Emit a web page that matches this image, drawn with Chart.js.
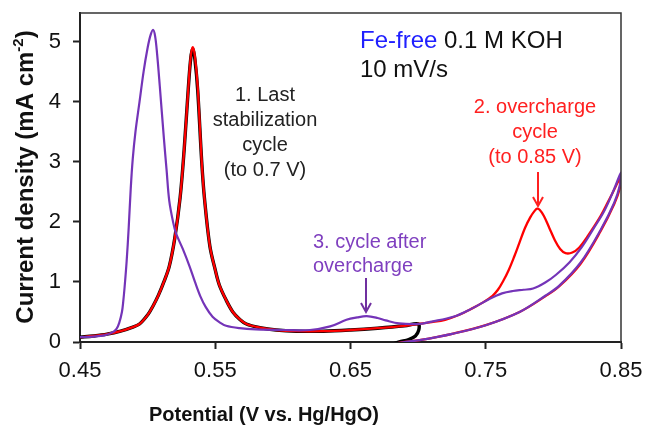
<!DOCTYPE html>
<html>
<head>
<meta charset="utf-8">
<script src="https://cdn.jsdelivr.net/npm/chart.js@4.4.1/dist/chart.umd.min.js"></script>
<style>
  html, body { margin: 0; padding: 0; background: #fff; }
  #wrap { width: 648px; height: 426px; position: relative; }
</style>
</head>
<body>
<div id="wrap"><canvas id="cv-chart"></canvas></div>
<script>
// ===== CV curves, Fe-free 0.1 M KOH, 10 mV/s =====
const xTicks = [0.45, 0.55, 0.65, 0.75, 0.85];
const yTicks = [0, 1, 2, 3, 4, 5];

// 1. last stabilization cycle (to 0.7 V) - anodic sweep then turn back
const stabPotential = [0.45, 0.46, 0.47, 0.48, 0.488, 0.494, 0.5, 0.504, 0.508, 0.512, 0.516, 0.52, 0.524, 0.527, 0.53, 0.532, 0.5335, 0.535, 0.537, 0.54, 0.542, 0.546, 0.55, 0.553, 0.558, 0.563, 0.568, 0.573, 0.583, 0.595, 0.61, 0.63, 0.65, 0.67, 0.69, 0.7, 0.7005, 0.698, 0.693, 0.686, 0.675];
const stabCurrent   = [0.08, 0.1, 0.13, 0.18, 0.24, 0.3, 0.45, 0.6, 0.78, 1.0, 1.26, 1.72, 2.4, 3.2, 4.2, 4.75, 4.88, 4.7, 4.2, 3.0, 2.4, 1.6, 1.2, 0.95, 0.7, 0.5, 0.38, 0.3, 0.24, 0.2, 0.18, 0.18, 0.2, 0.23, 0.27, 0.3, 0.2, 0.1, 0.04, 0.0, -0.08];

// 2. overcharge cycle (to 0.85 V)
const overPotential = [0.45, 0.46, 0.47, 0.48, 0.488, 0.494, 0.5, 0.504, 0.508, 0.512, 0.516, 0.52, 0.524, 0.527, 0.53, 0.532, 0.5335, 0.535, 0.537, 0.54, 0.542, 0.546, 0.55, 0.553, 0.558, 0.563, 0.568, 0.573, 0.583, 0.595, 0.61, 0.63, 0.65, 0.67, 0.69, 0.7, 0.71, 0.72, 0.73, 0.74, 0.748, 0.755, 0.759, 0.763, 0.767, 0.771, 0.775, 0.779, 0.783, 0.786, 0.788, 0.79, 0.793, 0.797, 0.801, 0.805, 0.809, 0.814, 0.819, 0.825, 0.835, 0.843, 0.85, 0.849, 0.845, 0.835, 0.82, 0.804, 0.794, 0.775, 0.75, 0.726, 0.701, 0.69, 0.675];
const overCurrent   = [0.08, 0.1, 0.13, 0.18, 0.24, 0.3, 0.45, 0.6, 0.78, 1.0, 1.26, 1.72, 2.4, 3.2, 4.2, 4.78, 4.91, 4.75, 4.26, 3.0, 2.4, 1.6, 1.2, 0.95, 0.7, 0.5, 0.38, 0.3, 0.24, 0.2, 0.18, 0.18, 0.2, 0.23, 0.27, 0.3, 0.33, 0.37, 0.45, 0.56, 0.66, 0.77, 0.87, 1.02, 1.2, 1.42, 1.66, 1.9, 2.08, 2.18, 2.22, 2.2, 2.1, 1.9, 1.7, 1.55, 1.48, 1.49, 1.57, 1.75, 2.1, 2.45, 2.75, 2.55, 2.3, 1.85, 1.3, 0.92, 0.76, 0.5, 0.28, 0.14, 0.03, 0.0, -0.06];

// 3. cycle after overcharge
const afterPotential = [0.45, 0.46, 0.468, 0.474, 0.477, 0.479, 0.481, 0.482, 0.483, 0.4845, 0.486, 0.4875, 0.489, 0.491, 0.494, 0.497, 0.5, 0.502, 0.504, 0.5055, 0.507, 0.509, 0.512, 0.514, 0.516, 0.519, 0.521, 0.526, 0.531, 0.535, 0.539, 0.543, 0.548, 0.553, 0.558, 0.568, 0.58, 0.6, 0.62, 0.635, 0.647, 0.655, 0.662, 0.67, 0.676, 0.686, 0.7, 0.71, 0.726, 0.74, 0.753, 0.762, 0.77, 0.778, 0.785, 0.794, 0.802, 0.812, 0.821, 0.83, 0.838, 0.845, 0.85, 0.849, 0.845, 0.835, 0.82, 0.804, 0.794, 0.775, 0.75, 0.726, 0.701, 0.69, 0.675];
const afterCurrent   = [0.08, 0.09, 0.11, 0.16, 0.22, 0.32, 0.5, 0.68, 0.92, 1.35, 1.9, 2.55, 3.05, 3.5, 4.0, 4.5, 4.9, 5.1, 5.2, 5.1, 4.8, 4.26, 3.4, 2.87, 2.35, 1.98, 1.81, 1.55, 1.26, 1.0, 0.76, 0.58, 0.42, 0.33, 0.27, 0.23, 0.21, 0.2, 0.2, 0.26, 0.37, 0.41, 0.43, 0.4, 0.36, 0.31, 0.3, 0.34, 0.42, 0.56, 0.72, 0.81, 0.85, 0.87, 0.89, 0.99, 1.12, 1.33, 1.58, 1.9, 2.2, 2.55, 2.82, 2.6, 2.32, 1.87, 1.32, 0.93, 0.77, 0.5, 0.28, 0.14, 0.03, 0.0, -0.06];

const toPoints = (xs, ys) => xs.map((x, i) => ({ x, y: ys[i] }));

const FONT = '"Liberation Sans", Arial, sans-serif';

function arrowDown(ctx, x, y1, y2, color) {
  ctx.strokeStyle = color;
  ctx.lineWidth = 2;
  ctx.beginPath();
  ctx.moveTo(x, y1);
  ctx.lineTo(x, y2);
  ctx.moveTo(x - 5, y2 - 9);
  ctx.lineTo(x, y2);
  ctx.lineTo(x + 5, y2 - 9);
  ctx.stroke();
}

// frame, axis titles and annotations
const decorPlugin = {
  id: 'decor',
  afterDraw(chart) {
    const { ctx, chartArea: a } = chart;
    ctx.save();
    ctx.strokeStyle = '#333';
    ctx.lineWidth = 1.5;
    ctx.beginPath();
    ctx.moveTo(a.left, a.top);
    ctx.lineTo(a.right, a.top);
    ctx.lineTo(a.right, a.bottom);
    ctx.stroke();

    ctx.textBaseline = 'alphabetic';

    // header
    ctx.font = '24px ' + FONT;
    ctx.textAlign = 'left';
    ctx.fillStyle = '#2020ff';
    ctx.fillText('Fe-free', 360, 48);
    const w = ctx.measureText('Fe-free ').width;
    ctx.fillStyle = '#111';
    ctx.fillText('0.1 M KOH', 360 + w, 48);
    ctx.fillText('10 mV/s', 360, 77);

    // 1. stabilization label
    ctx.font = '20px ' + FONT;
    ctx.textAlign = 'center';
    ctx.fillStyle = '#222';
    ['1. Last', 'stabilization', 'cycle', '(to 0.7 V)'].forEach((t, i) => ctx.fillText(t, 265, 101 + i * 25));

    // 2. overcharge label
    ctx.fillStyle = '#ff2020';
    ['2. overcharge', 'cycle', '(to 0.85 V)'].forEach((t, i) => ctx.fillText(t, 535, 113 + i * 25));
    arrowDown(ctx, 538, 172, 206, '#ff2020');

    // 3. after overcharge label
    ctx.fillStyle = '#7f3fbf';
    ctx.textAlign = 'left';
    ctx.fillText('3. cycle after', 313, 248);
    ctx.fillText('overcharge', 313, 272);
    arrowDown(ctx, 366, 278, 312, '#7030a0');

    // x title
    ctx.fillStyle = '#111';
    ctx.font = 'bold 20px ' + FONT;
    ctx.textAlign = 'center';
    ctx.fillText('Potential (V vs. Hg/HgO)', 264, 421);

    // y title with superscript
    const main = 'Current density (mA cm';
    const big = 'bold 24px ' + FONT, small = 'bold 15px ' + FONT;
    ctx.font = big;
    const w1 = ctx.measureText(main).width, w3 = ctx.measureText(')').width;
    ctx.font = small;
    const w2 = ctx.measureText('-2').width;
    const total = w1 + w2 + w3;
    ctx.translate(33, 177);
    ctx.rotate(-Math.PI / 2);
    ctx.textAlign = 'left';
    ctx.font = big;
    ctx.fillText(main, -total / 2, 0);
    ctx.font = small;
    ctx.fillText('-2', -total / 2 + w1, -10);
    ctx.font = big;
    ctx.fillText(')', -total / 2 + w1 + w2, 0);
    ctx.restore();
  }
};

const lineSet = (label, xs, ys, color, width, order) => ({
  label,
  data: toPoints(xs, ys),
  showLine: true,
  borderColor: color,
  borderWidth: width,
  pointRadius: 0,
  tension: 0.35,
  fill: false,
  order
});

new Chart(document.getElementById('cv-chart'), {
  type: 'scatter',
  data: {
    datasets: [
      lineSet('3. cycle after overcharge', afterPotential, afterCurrent, '#7434b8', 2.2, 0),
      lineSet('2. overcharge cycle', overPotential, overCurrent, '#ff0000', 2.3, 1),
      lineSet('1. Last stabilization cycle', stabPotential, stabCurrent, '#000000', 3.4, 2)
    ]
  },
  options: {
    responsive: true,
    maintainAspectRatio: false,
    animation: false,
    layout: { padding: { top: 13, right: 27, left: 0, bottom: 0 } },
    plugins: {
      legend: { display: false },
      tooltip: { enabled: false }
    },
    scales: {
      x: {
        type: 'linear',
        min: 0.45,
        max: 0.85,
        afterBuildTicks: (s) => { s.ticks = xTicks.map(v => ({ value: v })); },
        afterFit: (s) => { s.height = 84; s.paddingLeft = 0; s.paddingRight = 0; },
        ticks: {
          color: '#111',
          font: { family: FONT, size: 22 },
          padding: 9,
          maxRotation: 0,
          callback: (v) => v.toFixed(2)
        },
        grid: { drawOnChartArea: false, drawTicks: true, tickLength: 7, tickColor: '#222', tickWidth: 2 },
        border: { color: '#222', width: 2 }
      },
      y: {
        min: 0,
        max: 5.48,
        afterBuildTicks: (s) => { s.ticks = yTicks.map(v => ({ value: v })); },
        afterFit: (s) => { s.width = 80; s.paddingTop = 0; s.paddingBottom = 0; },
        ticks: {
          color: '#111',
          font: { family: FONT, size: 22 },
          padding: 12
        },
        grid: { drawOnChartArea: false, drawTicks: true, tickLength: 7, tickColor: '#222', tickWidth: 2 },
        border: { color: '#222', width: 2 }
      }
    }
  },
  plugins: [decorPlugin]
});
</script>
</body>
</html>
